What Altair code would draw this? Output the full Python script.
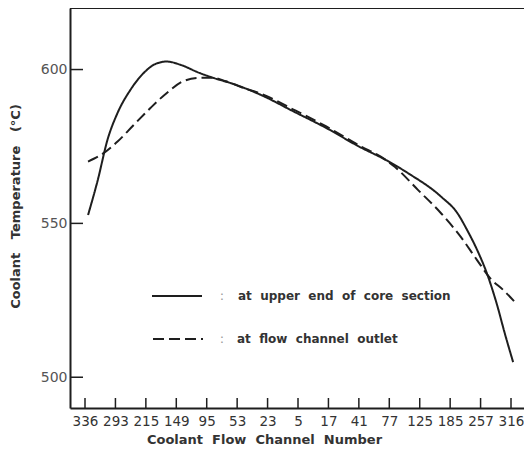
import altair as alt
import pandas as pd

channel_labels = ["336", "293", "215", "149", "95", "53", "23", "5", "17", "41",
                  "77", "125", "185", "257", "316"]

solid_pos = [0.10, 0.42, 0.74, 1.07, 1.50, 1.93, 2.36, 2.69, 3.12, 3.76, 4.41, 4.69,
             5.77, 6.85, 7.93, 9.0, 9.87, 10.62, 11.7, 12.24, 12.56, 12.89, 13.21,
             13.53, 13.8, 14.07]
solid_temp = [552.7, 564.1, 577.2, 585.9, 593.5, 598.9, 602.0, 602.6, 601.6, 598.9, 596.7, 595.9,
              591.8, 586.4, 581.0, 575.0, 570.7, 566.3, 558.7, 553.3, 547.8, 541.3, 533.7,
              523.9, 514.1, 504.9]

dashed_pos = [0.10, 0.53, 1.07, 1.61, 2.15, 2.69, 3.23, 3.76, 4.20, 4.63, 5.27, 5.77,
              6.85, 7.93, 9.0, 9.87, 10.19, 10.94, 11.7, 12.35, 12.89, 13.32, 13.75, 14.18]
dashed_temp = [570.1, 572.3, 576.6, 582.1, 587.5, 592.4, 596.2, 597.3, 597.3, 596.2, 593.8, 592.2,
               587.0, 581.5, 575.4, 570.7, 568.3, 560.9, 553.3, 545.6, 538.0, 532.1, 528.3, 523.9]

series_names = ["at upper end of core section", "at flow channel outlet"]
y_ticks = [500, 550, 600]

W, H = 454, 400
INK = "#1e1e1e"
NB = "\u00a0"

df = pd.concat([
    pd.DataFrame({"pos": solid_pos, "temp": solid_temp, "series": series_names[0]}),
    pd.DataFrame({"pos": dashed_pos, "temp": dashed_temp, "series": series_names[1]}),
])

x_scale = alt.Scale(domain=[-0.493, 14.427], nice=False, zero=False)
y_scale = alt.Scale(domain=[490, 620], nice=False, zero=False)

label_arr = "[" + ",".join("'%s'" % s for s in channel_labels) + "]"

x_axis = alt.Axis(values=list(range(len(channel_labels))),
                  labelExpr=label_arr + "[datum.value]",
                  ticks=False, grid=False, domainColor=INK, domainWidth=2,
                  labelFont="DejaVu Sans", labelFontSize=13.5, labelColor="#333",
                  labelPadding=6, labelFlush=False, labelOverlap=False,
                  title=(NB * 2).join(["Coolant", "Flow", "Channel", "Number"]),
                  titleFont="DejaVu Sans", titleFontSize=13, titleFontWeight="bold",
                  titleColor="#333", titleX=194, titleY=31, titleBaseline="middle")
y_axis = alt.Axis(values=y_ticks, ticks=False, grid=False, domainColor=INK,
                  domainWidth=2, labelFont="DejaVu Sans", labelFontSize=14,
                  labelColor="#555", labelPadding=3,
                  title=(NB * 3).join(["Coolant", "Temperature", "(°C)"]),
                  titleFont="DejaVu Sans", titleFontSize=13, titleFontWeight="bold",
                  titleColor="#333", titleX=-55, titleY=198, titleAngle=270,
                  titleAlign="center", titleBaseline="middle")

lines = alt.Chart(df).mark_line(strokeWidth=2, color=INK, interpolate="monotone").encode(
    x=alt.X("pos:Q", scale=x_scale, axis=x_axis),
    y=alt.Y("temp:Q", scale=y_scale, axis=y_axis),
    strokeDash=alt.StrokeDash("series:N",
                              scale=alt.Scale(domain=series_names, range=[[1, 0], [11, 5]]),
                              legend=None),
)

xticks = alt.Chart(pd.DataFrame({"pos": list(range(len(channel_labels)))})).mark_rule(
    strokeWidth=1.5, color=INK).encode(
    x=alt.X("pos:Q", scale=x_scale, axis=x_axis),
    y=alt.value(H), y2=alt.value(H - 10))

yticks = alt.Chart(pd.DataFrame({"temp": y_ticks})).mark_rule(
    strokeWidth=1.5, color=INK).encode(
    y=alt.Y("temp:Q", scale=y_scale, axis=y_axis),
    x=alt.value(0), x2=alt.value(13))

one = pd.DataFrame({"a": [0]})
top = alt.Chart(one).mark_rule(strokeWidth=2, color=INK).encode(
    x=alt.value(0), x2=alt.value(W), y=alt.value(0))

leg_solid = alt.Chart(one).mark_rule(strokeWidth=2, color=INK).encode(
    x=alt.value(82), x2=alt.value(132), y=alt.value(288))
leg_dash = alt.Chart(one).mark_rule(strokeWidth=2, color=INK, strokeDash=[11, 5]).encode(
    x=alt.value(83), x2=alt.value(133), y=alt.value(331))

colon_style = dict(text=":", font="DejaVu Sans", fontSize=13, color="#999",
                   align="center", baseline="middle")
colon1 = alt.Chart(one).mark_text(**colon_style).encode(x=alt.value(152), y=alt.value(288))
colon2 = alt.Chart(one).mark_text(**colon_style).encode(x=alt.value(152), y=alt.value(331))

text_style = dict(font="DejaVu Sans", fontSize=12, fontWeight="bold", color="#333",
                  align="left", baseline="middle")
text1 = alt.Chart(one).mark_text(text=(NB * 2).join(series_names[0].split(" ")),
                                 **text_style).encode(x=alt.value(168), y=alt.value(288))
text2 = alt.Chart(one).mark_text(text=(NB * 2).join(series_names[1].split(" ")),
                                 **text_style).encode(x=alt.value(167), y=alt.value(331))

chart = alt.layer(lines, xticks, yticks, top, leg_solid, leg_dash, colon1, colon2,
                  text1, text2).properties(
    width=W, height=H,
    autosize=alt.AutoSizeParams(type="none"),
    padding={"left": 62, "top": 0, "right": 0, "bottom": 40},
    background="white",
).configure_view(stroke=None)

chart.save("out.html", embed_options={"renderer": "svg", "actions": False})
